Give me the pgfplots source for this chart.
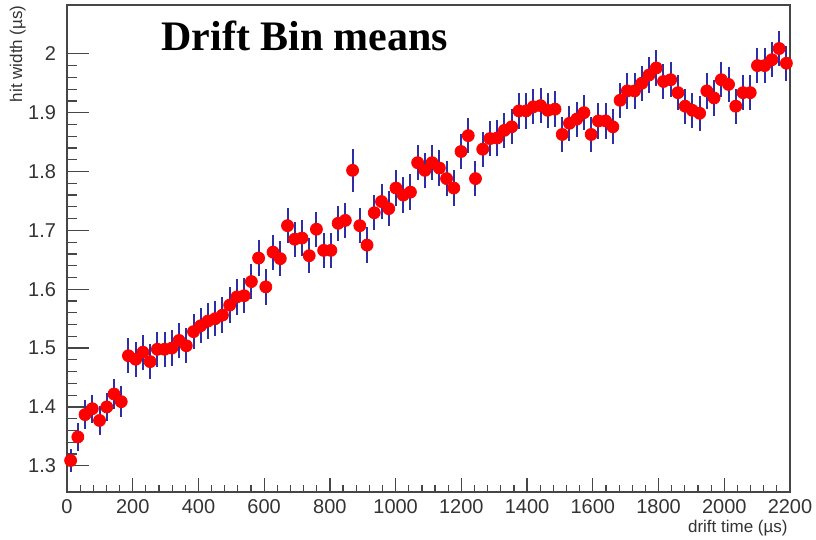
\documentclass[border=0pt]{standalone}
\usepackage{pgfplots}
\pgfplotsset{compat=1.18}
\usepackage{pgfplotstable}
\usepackage{fontspec}
\setmainfont{Liberation Sans}
\newfontfamily\titlefont{Liberation Serif}
\definecolor{ebblue}{RGB}{45,45,165}
\definecolor{framegray}{RGB}{70,70,70}

\pgfplotstableread{
x y e
11 1.309 0.020
33 1.349 0.024
55 1.387 0.024
77 1.397 0.024
99 1.377 0.024
121 1.400 0.024
143 1.422 0.026
165 1.409 0.026
187 1.487 0.030
209 1.481 0.030
231 1.493 0.030
253 1.477 0.030
275 1.498 0.030
297 1.498 0.030
319 1.500 0.030
341 1.513 0.030
363 1.504 0.030
385 1.528 0.030
407 1.538 0.030
429 1.546 0.030
451 1.550 0.030
473 1.556 0.030
495 1.573 0.030
517 1.587 0.030
539 1.589 0.030
561 1.613 0.030
583 1.653 0.030
605 1.604 0.030
627 1.663 0.030
649 1.652 0.030
671 1.708 0.030
693 1.685 0.030
715 1.687 0.030
737 1.657 0.030
759 1.702 0.030
781 1.666 0.030
803 1.666 0.030
825 1.712 0.030
847 1.717 0.030
869 1.802 0.037
891 1.708 0.030
913 1.675 0.030
935 1.730 0.030
957 1.749 0.030
979 1.737 0.030
1001 1.772 0.030
1023 1.760 0.030
1045 1.765 0.030
1067 1.815 0.030
1089 1.802 0.030
1111 1.815 0.030
1133 1.806 0.030
1155 1.788 0.030
1177 1.772 0.030
1199 1.834 0.030
1221 1.861 0.030
1243 1.788 0.030
1265 1.838 0.030
1287 1.856 0.030
1309 1.857 0.030
1331 1.870 0.030
1353 1.876 0.030
1375 1.903 0.030
1397 1.903 0.030
1419 1.910 0.030
1441 1.912 0.030
1463 1.904 0.030
1485 1.906 0.030
1507 1.863 0.030
1529 1.882 0.030
1551 1.889 0.030
1573 1.900 0.030
1595 1.863 0.030
1617 1.886 0.030
1639 1.886 0.030
1661 1.876 0.030
1683 1.921 0.030
1705 1.937 0.030
1727 1.937 0.030
1749 1.950 0.030
1771 1.964 0.030
1793 1.976 0.030
1815 1.953 0.030
1837 1.956 0.030
1859 1.934 0.030
1881 1.911 0.030
1903 1.904 0.030
1925 1.899 0.030
1947 1.937 0.030
1969 1.925 0.030
1991 1.956 0.030
2013 1.948 0.030
2035 1.911 0.030
2057 1.934 0.030
2079 1.934 0.030
2101 1.980 0.030
2123 1.980 0.030
2145 1.990 0.030
2167 2.009 0.030
2189 1.984 0.030
}\drift

\begin{document}
\begin{tikzpicture}
\path[use as bounding box] (-33.5pt,-24pt) rectangle (374.5pt,246pt);
\begin{axis}[
  at={(0,0)}, anchor=south west,
  scale only axis,
  width=361.5pt, height=243.5pt,
  xmin=0, xmax=2200,
  ymin=1.2555, ymax=2.083,
  xtick={0,200,400,600,800,1000,1200,1400,1600,1800,2000,2200},
  ytick={1.3,1.4,1.5,1.6,1.7,1.8,1.9,2.0},
  minor x tick num=4,
  minor y tick num=4,
  tick pos=left,
  tick align=inside,
  major tick length=9pt,
  minor tick length=4.5pt,
  xtick style={/pgfplots/major tick length=7pt,/pgfplots/minor tick length=3.5pt},
  ytick style={/pgfplots/major tick length=11pt,/pgfplots/minor tick length=5pt},
  every tick/.style={framegray, line width=0.6pt},
  axis line style={framegray, line width=0.8pt},
  scaled ticks=false,
  /pgf/number format/1000 sep={},
  /pgf/number format/assume math mode=true,
  ticklabel style={font=\fontsize{10}{12}\selectfont, color=black!80},
  yticklabel style={xshift=-2pt},
  xlabel={drift time (µs)},
  ylabel={hit width (µs)},
  xlabel style={font=\fontsize{8.5}{10}\selectfont, color=black!80, at={(rel axis cs:1,0)}, anchor=north east, yshift=-13pt, inner sep=1pt},
  ylabel style={font=\fontsize{8.5}{10}\selectfont, color=black!80, at={(rel axis cs:0,1)}, anchor=south east, yshift=20.5pt, inner sep=0pt},
  clip=false,
]
\addplot[
  only marks,
  mark=*,
  mark size=3pt,
  mark options={fill=red, draw=red},
  error bars/.cd,
    y dir=both, y explicit,
    error mark=none,
    error bar style={ebblue, line width=1pt},
] table[x=x, y=y, y error=e] {\drift};
\node[font=\titlefont\bfseries\fontsize{21}{24}\selectfont, anchor=center] at (rel axis cs:0.329,0.936) {Drift Bin means};
\end{axis}
\end{tikzpicture}
\end{document}
